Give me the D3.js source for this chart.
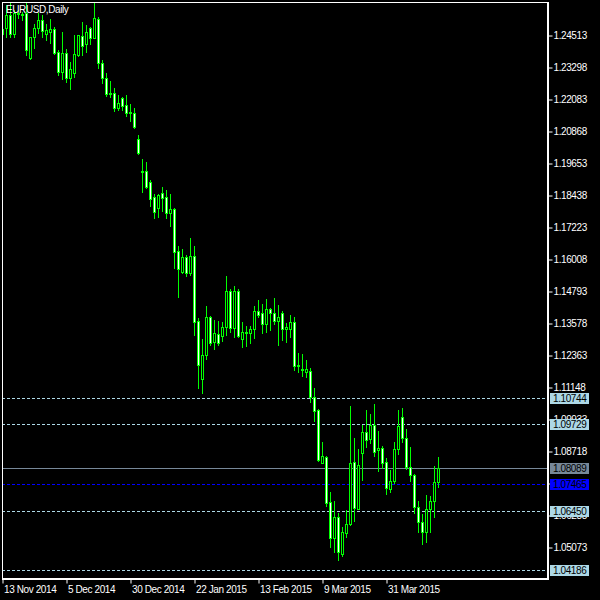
<!DOCTYPE html>
<html>
<head>
<meta charset="utf-8">
<script src="https://cdn.jsdelivr.net/npm/d3@7"></script>
<style>
	body { margin: 0; background: #000; }
	svg { display: block; }
	text { font-family: "Liberation Sans", Arial, sans-serif; font-size: 10px; letter-spacing: -0.4px; }
</style>
</head>
<body>
<svg></svg>
<script>
	const title = 'EURUSD,Daily'

	// daily bars, 13 Nov 2014 onwards
	const opens = [1.2455,1.2478,1.2527,1.2455,1.2535,1.2527,1.2535,1.2364,1.2444,1.2478,
		1.2508,1.2455,1.2463,1.2474,1.2387,1.2311,1.2383,1.2288,1.2307,1.2375,
		1.2448,1.2417,1.2478,1.2440,1.2512,1.2345,1.2288,1.2231,1.2231,1.2174,
		1.2212,1.2186,1.2159,1.2155,1.2056,1.1935,1.1935,1.1893,1.1836,1.1794,
		1.1851,1.1836,1.1775,1.1791,1.1631,1.1551,1.1608,1.1548,1.1612,1.1365,
		1.1145,1.1236,1.1381,1.1286,1.1316,1.1308,1.1343,1.1479,1.1339,1.1479,
		1.1297,1.1324,1.1320,1.1335,1.1403,1.1396,1.1354,1.1411,1.1396,1.1365,
		1.1396,1.1335,1.1335,1.1362,1.1198,1.1183,1.1172,1.1176,1.1077,1.1027,
		1.0826,1.0849,1.0678,1.0541,1.0621,1.0481,1.0560,1.0595,1.0830,1.0652,
		1.0864,1.0944,1.0917,1.0971,1.0876,1.0883,1.0830,1.0728,1.0758,1.0879,
		1.1001,1.0921,1.0811,1.0781,1.0659,1.0602,1.0564,1.0652,1.0682,1.0754]
	const highs = [1.2478,1.2565,1.2573,1.2546,1.2546,1.2539,1.2573,1.2444,1.2493,1.2535,
		1.2527,1.2493,1.2512,1.2482,1.2394,1.2463,1.2398,1.2349,1.2451,1.2451,
		1.2501,1.2489,1.2482,1.2573,1.2520,1.2356,1.2307,1.2277,1.2250,1.2224,
		1.2216,1.2224,1.2189,1.2174,1.2072,1.1981,1.1969,1.1901,1.1848,1.1848,
		1.1874,1.1863,1.1848,1.1794,1.1650,1.1639,1.1616,1.1681,1.1650,1.1377,
		1.1297,1.1422,1.1384,1.1369,1.1365,1.1362,1.1536,1.1487,1.1498,1.1487,
		1.1362,1.1346,1.1346,1.1422,1.1445,1.1430,1.1449,1.1415,1.1453,1.1426,
		1.1403,1.1358,1.1388,1.1381,1.1244,1.1240,1.1217,1.1187,1.1111,1.1031,
		1.0906,1.0853,1.0716,1.0682,1.0636,1.0583,1.0648,1.1043,1.0921,1.0879,
		1.0971,1.1027,1.1012,1.1050,1.0948,1.0891,1.0845,1.0800,1.0906,1.1027,
		1.1035,1.0955,1.0887,1.0784,1.0682,1.0633,1.0705,1.0701,1.0815,1.0849]
	const lows = [1.2432,1.2444,1.2444,1.2444,1.2516,1.2508,1.2375,1.2360,1.2402,1.2459,
		1.2444,1.2432,1.2421,1.2379,1.2299,1.2284,1.2273,1.2246,1.2292,1.2372,
		1.2375,1.2387,1.2417,1.2440,1.2326,1.2269,1.2220,1.2216,1.2163,1.2167,
		1.2167,1.2144,1.2125,1.2098,1.1999,1.1855,1.1870,1.1802,1.1756,1.1760,
		1.1783,1.1756,1.1726,1.1567,1.1457,1.1548,1.1536,1.1540,1.1312,1.1111,
		1.1092,1.1221,1.1274,1.1259,1.1274,1.1289,1.1312,1.1324,1.1305,1.1305,
		1.1267,1.1271,1.1282,1.1301,1.1381,1.1320,1.1324,1.1331,1.1354,1.1274,
		1.1293,1.1286,1.1305,1.1179,1.1172,1.1157,1.1153,1.1058,1.0986,1.0834,
		1.0826,1.0663,1.0507,1.0488,1.0458,1.0473,1.0545,1.0591,1.0606,1.0652,
		1.0762,1.0887,1.0902,1.0853,1.0796,1.0807,1.0709,1.0716,1.0750,1.0860,
		1.0906,1.0803,1.0758,1.0636,1.0564,1.0519,1.0526,1.0564,1.0621,1.0735]
	const closes = [1.2474,1.2527,1.2455,1.2535,1.2531,1.2531,1.2394,1.2444,1.2478,1.2508,
		1.2466,1.2470,1.2474,1.2383,1.2311,1.2383,1.2288,1.2322,1.2379,1.2451,
		1.2410,1.2463,1.2440,1.2516,1.2345,1.2288,1.2227,1.2227,1.2174,1.2193,
		1.2182,1.2155,1.2155,1.2102,1.2003,1.1933,1.1874,1.1829,1.1779,1.1844,
		1.1832,1.1775,1.1791,1.1627,1.1563,1.1608,1.1548,1.1612,1.1362,1.1198,
		1.1236,1.1381,1.1282,1.1320,1.1282,1.1343,1.1479,1.1339,1.1479,1.1308,
		1.1324,1.1320,1.1335,1.1403,1.1388,1.1354,1.1411,1.1396,1.1365,1.1381,
		1.1335,1.1343,1.1362,1.1195,1.1195,1.1179,1.1183,1.1077,1.1024,1.0838,
		1.0853,1.0674,1.0541,1.0621,1.0488,1.0564,1.0595,1.0826,1.0655,1.0819,
		1.0944,1.0914,1.0971,1.0868,1.0883,1.0826,1.0731,1.0758,1.0879,1.0967,
		1.0921,1.0811,1.0781,1.0659,1.0602,1.0564,1.0652,1.0682,1.0754,1.08089]

	const dateTicks = [0, 16, 32, 48, 64, 80, 96]
	const dateLabels = ['13 Nov 2014', '5 Dec 2014', '30 Dec 2014', '22 Jan 2015', '13 Feb 2015', '9 Mar 2015', '31 Mar 2015']

	const priceTicks = [1.24513, 1.23298, 1.22083, 1.20868, 1.19653, 1.18438, 1.17223, 1.16008, 1.14793,
		1.13578, 1.12363, 1.11148, 1.09933, 1.08718, 1.07503, 1.06288, 1.05073]

	const levels = [1.10744, 1.09729, 1.06450, 1.04186]
	const lastPrice = 1.08089
	const markPrice = 1.07465

	let width = 600, height = 600
	let frameL = 2, frameT = 2, frameR = 548, frameB = 579

	let svg = d3.select('svg')
	.attr('width', width)
	.attr('height', height)
	.style('background', '#000')

	let scX = d3.scaleLinear()
	.domain([0, opens.length - 1])
	.range([2, 2 + 4 * (opens.length - 1)])

	let scY = d3.scaleLinear()
	.domain([1.05073, 1.24513])
	.range([547, 35])

	const py = v => Math.round(scY(v))

	svg.append('clipPath').attr('id', 'plot')
	.append('rect')
	.attr('x', frameL + 1).attr('y', frameT + 1)
	.attr('width', frameR - frameL - 1).attr('height', frameB - frameT - 1)

	// horizontal lines, behind the bars
	let lines = svg.append('g').attr('clip-path', 'url(#plot)')

	lines.selectAll('line.level')
	.data(levels).enter().append('line')
	.attr('class', 'level')
	.attr('x1', frameL).attr('x2', frameR)
	.attr('y1', d => py(d) + 0.5).attr('y2', d => py(d) + 0.5)
	.attr('stroke', '#add8e6')
	.attr('stroke-dasharray', '3,2')

	lines.append('line')
	.attr('x1', frameL).attr('x2', frameR)
	.attr('y1', py(lastPrice) + 0.5).attr('y2', py(lastPrice) + 0.5)
	.attr('stroke', '#778899')

	lines.append('line')
	.attr('x1', frameL).attr('x2', frameR)
	.attr('y1', py(markPrice) + 0.5).attr('y2', py(markPrice) + 0.5)
	.attr('stroke', '#0000ff')
	.attr('stroke-dasharray', '3,2')

	// candles
	let bars = opens.map((o, i) => ({ i: i, o: o, h: highs[i], l: lows[i], c: closes[i] }))

	let candles = svg.append('g').attr('clip-path', 'url(#plot)')
	.selectAll('g')
	.data(bars).enter().append('g')

	candles.append('rect')
	.attr('x', d => Math.round(scX(d.i)))
	.attr('y', d => py(d.h))
	.attr('width', 1)
	.attr('height', d => py(d.l) - py(d.h) + 1)
	.attr('fill', '#00ff00')

	candles.append('rect')
	.attr('x', d => Math.round(scX(d.i)) - 1)
	.attr('y', d => py(Math.max(d.o, d.c)))
	.attr('width', 3)
	.attr('height', d => Math.max(1, py(Math.min(d.o, d.c)) - py(Math.max(d.o, d.c)) + 1))
	.attr('fill', '#00ff00')

	candles.filter(d => py(Math.min(d.o, d.c)) - py(Math.max(d.o, d.c)) >= 2)
	.append('rect')
	.attr('x', d => Math.round(scX(d.i)))
	.attr('y', d => py(Math.max(d.o, d.c)) + 1)
	.attr('width', 1)
	.attr('height', d => py(Math.min(d.o, d.c)) - py(Math.max(d.o, d.c)) - 1)
	.attr('fill', d => d.c < d.o ? '#ffffff' : '#000000')

	// frame
	svg.append('rect')
	.attr('x', frameL + 0.5).attr('y', frameT + 0.5)
	.attr('width', frameR - frameL).attr('height', frameB - frameT)
	.attr('fill', 'none')
	.attr('stroke', '#fff')

	svg.append('path')
	.attr('d', `M${frameR},${frameT} V${frameB} H${frameL}`)
	.attr('fill', 'none')
	.attr('stroke', '#fff')
	.attr('stroke-width', 2)

	// price axis
	let axY = d3.axisRight(scY)
	.tickValues(priceTicks)
	.tickFormat(d3.format('.5f'))
	.tickSize(4)
	.tickPadding(1)

	let gy = svg.append('g')
	.attr('transform', `translate(${frameR + 0.5}, 0.5)`)
	.call(axY)
	gy.select('.domain').remove()
	gy.selectAll('line').attr('stroke', '#fff')
	gy.selectAll('text').attr('fill', '#fff')
	gy.attr('font-family', null).attr('font-size', null)

	// date axis
	let axX = d3.axisBottom(scX)
	.tickValues(dateTicks)
	.tickFormat((d, i) => dateLabels[i])
	.tickSize(4)
	.tickPadding(2)

	let gx = svg.append('g')
	.attr('transform', `translate(0.5, ${frameB + 0.5})`)
	.call(axX)
	gx.select('.domain').remove()
	gx.selectAll('line').attr('stroke', '#fff')
	gx.selectAll('text')
	.attr('fill', '#fff')
	.attr('text-anchor', 'start').attr('x', 1)
	gx.attr('font-family', null).attr('font-size', null).attr('text-anchor', null)

	// price labels on the right
	const tag = (v, bg) => {
		let g = svg.append('g')
		g.append('rect')
		.attr('x', frameR + 2).attr('y', py(v) - 5)
		.attr('width', 39).attr('height', 11)
		.attr('fill', bg)
		g.append('text')
		.attr('x', frameR + 5).attr('y', py(v) + 4)
		.attr('fill', '#000')
		.text(d3.format('.5f')(v))
	}
	levels.forEach(v => tag(v, '#add8e6'))
	tag(lastPrice, '#778899')
	tag(markPrice, '#0000ff')

	svg.append('text')
	.attr('x', 6).attr('y', 13)
	.attr('fill', '#fff')
	.text(title)
</script>
</body>
</html>
